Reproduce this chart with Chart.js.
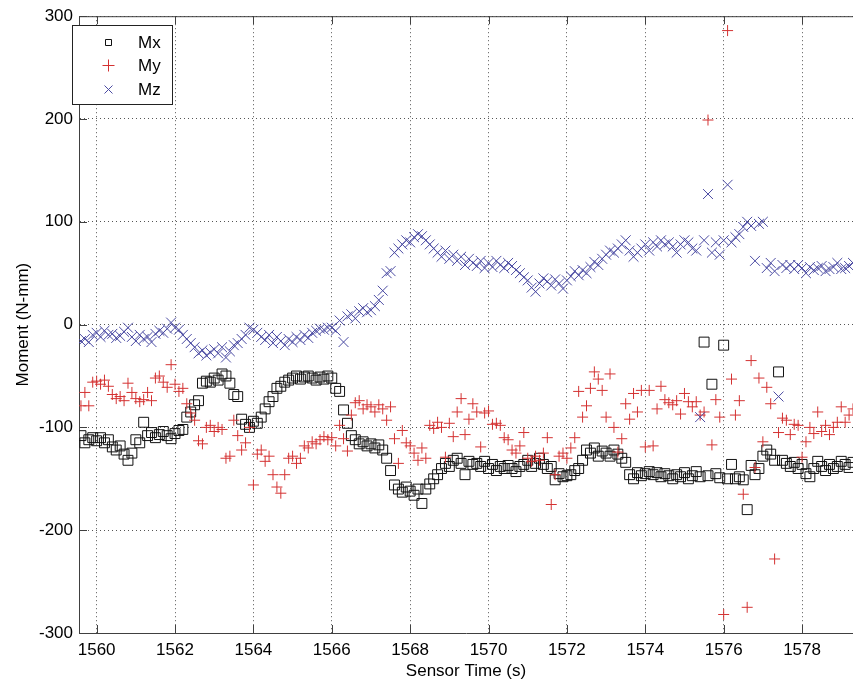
<!DOCTYPE html>
<html>
<head>
<meta charset="utf-8">
<script src="https://cdn.jsdelivr.net/npm/chart.js"></script>
<style>
  html, body { margin: 0; padding: 0; background: #fff; }
  canvas { display: block; }
</style>
</head>
<body>
<canvas id="myChart" width="853" height="683"></canvas>
<script>
// sample times (s)
const time = [
  1559.6,1559.7,1559.8,1559.9,
  1560.0,1560.1,1560.2,1560.3,1560.4,1560.5,1560.6,1560.7,1560.8,1560.9,
  1561.0,1561.1,1561.2,1561.3,1561.4,1561.5,1561.6,1561.7,1561.8,1561.9,
  1562.0,1562.1,1562.2,1562.3,1562.4,1562.5,1562.6,1562.7,1562.8,1562.9,
  1563.0,1563.1,1563.2,1563.3,1563.4,1563.5,1563.6,1563.7,1563.8,1563.9,
  1564.0,1564.1,1564.2,1564.3,1564.4,1564.5,1564.6,1564.7,1564.8,1564.9,
  1565.0,1565.1,1565.2,1565.3,1565.4,1565.5,1565.6,1565.7,1565.8,1565.9,
  1566.0,1566.1,1566.2,1566.3,1566.4,1566.5,1566.6,1566.7,1566.8,1566.9,
  1567.0,1567.1,1567.2,1567.3,1567.4,1567.5,1567.6,1567.7,1567.8,1567.9,
  1568.0,1568.1,1568.2,1568.3,1568.4,1568.5,1568.6,1568.7,1568.8,1568.9,
  1569.0,1569.1,1569.2,1569.3,1569.4,1569.5,1569.6,1569.7,1569.8,1569.9,
  1570.0,1570.1,1570.2,1570.3,1570.4,1570.5,1570.6,1570.7,1570.8,1570.9,
  1571.0,1571.1,1571.2,1571.3,1571.4,1571.5,1571.6,1571.7,1571.8,1571.9,
  1572.0,1572.1,1572.2,1572.3,1572.4,1572.5,1572.6,1572.7,1572.8,1572.9,
  1573.0,1573.1,1573.2,1573.3,1573.4,1573.5,1573.6,1573.7,1573.8,1573.9,
  1574.0,1574.1,1574.2,1574.3,1574.4,1574.5,1574.6,1574.7,1574.8,1574.9,
  1575.0,1575.1,1575.2,1575.3,1575.4,1575.5,1575.6,1575.7,1575.8,1575.9,
  1576.0,1576.1,1576.2,1576.3,1576.4,1576.5,1576.6,1576.7,1576.8,1576.9,
  1577.0,1577.1,1577.2,1577.3,1577.4,1577.5,1577.6,1577.7,1577.8,1577.9,
  1578.0,1578.1,1578.2,1578.3,1578.4,1578.5,1578.6,1578.7,1578.8,1578.9,
  1579.0,1579.1,1579.2,1579.3
];

// Mx (N-mm)
const mx = [
  -108,-115,-112,-110,
  -113,-110,-115,-112,-119,-122,-118,-126,-132,-125,
  -112,-115,-95,-108,-105,-110,-107,-104,-108,-111,
  -106,-103,-102,-90,-85,-78,-74,-57,-55,-56,
  -52,-54,-48,-50,-57,-68,-70,-92,-97,-100,
  -94,-96,-90,-82,-75,-70,-62,-60,-56,-54,
  -52,-50,-53,-51,-50,-52,-54,-51,-53,-50,
  -52,-62,-65,-83,-96,-108,-112,-116,-114,-118,
  -116,-120,-117,-122,-130,-142,-156,-160,-163,-158,
  -162,-166,-160,-174,-160,-155,-150,-146,-140,-135,
  -138,-132,-130,-135,-146,-133,-136,-135,-138,-133,
  -140,-136,-142,-138,-140,-137,-140,-143,-138,-136,
  -132,-138,-135,-130,-136,-140,-138,-151,-145,-148,
  -147,-146,-142,-140,-132,-122,-125,-120,-128,-123,
  -125,-128,-122,-126,-130,-134,-146,-150,-144,-147,
  -145,-143,-146,-144,-148,-145,-147,-150,-146,-148,
  -144,-150,-147,-143,-148,-17,-147,-58,-145,-149,
  -20,-150,-136,-150,-148,-151,-180,-137,-146,-140,
  -128,-122,-126,-132,-46,-132,-135,-138,-134,-140,
  -136,-145,-148,-140,-133,-138,-142,-136,-140,-138,
  -133,-136,-139,-134
];

// My (N-mm)
const my = [
  -79,-66,-79,-56,
  -55,-58,-54,-60,-68,-72,-70,-74,-57,-66,
  -72,-75,-73,-66,-74,-52,-50,-56,-61,-39,
  -58,-65,-62,-77,-86,-93,-113,-116,-100,-98,
  -104,-100,-102,-130,-128,-93,-108,-122,-115,-100,
  -156,-126,-122,-133,-128,-146,-158,-164,-146,-130,
  -128,-135,-130,-118,-120,-114,-116,-112,-109,-112,
  -110,-118,-98,-111,-123,-88,-76,-74,-82,-78,
  -80,-85,-78,-82,-93,-80,-111,-135,-103,-115,
  -118,-125,-132,-120,-130,-98,-101,-95,-100,-129,
  -96,-109,-85,-72,-107,-92,-77,-85,-119,-86,
  -84,-97,-96,-98,-110,-112,-122,-125,-118,-105,
  -130,-133,-128,-132,-125,-110,-175,-146,-128,-125,
  -130,-120,-110,-65,-90,-79,-62,-46,-53,-64,
  -90,-48,-100,-124,-111,-77,-92,-67,-85,-64,
  -119,-64,-118,-82,-60,-73,-76,-78,-74,-87,
  -67,-75,-80,-75,-88,-85,199,-117,-73,-90,
  -282,286,-53,-88,-74,-165,-275,-35,-139,-52,
  -114,-61,-77,-228,-105,-91,-93,-107,-97,-98,
  -129,-114,-100,-106,-85,-104,-98,-107,-100,-95,
  -80,-95,-88,-82
];

// Mz (N-mm)
const mz = [
  -16,-14,-17,-10,
  -8,-12,-6,-10,-9,-13,-11,-7,-3,-12,
  -16,-10,-14,-12,-17,-9,-6,-8,-4,2,
  -3,-5,-10,-14,-18,-22,-28,-25,-30,-27,
  -24,-28,-22,-32,-26,-20,-18,-14,-10,-3,
  -5,-8,-12,-15,-10,-18,-12,-16,-20,-14,
  -17,-12,-15,-10,-13,-8,-6,-4,-5,-3,
  -3,-6,4,-17,8,10,6,13,16,12,
  14,18,24,33,50,52,70,74,78,82,
  80,85,88,86,82,78,74,70,66,72,
  64,68,62,66,58,64,60,57,62,55,
  60,56,62,58,55,60,57,53,50,46,
  43,36,32,40,45,42,38,44,40,35,
  43,47,52,48,53,50,56,61,58,64,
  68,72,70,74,78,82,72,66,70,74,
  78,72,80,76,82,78,80,76,70,78,
  82,80,74,72,-90,82,127,70,80,68,
  82,136,80,85,88,95,100,96,62,98,
  100,55,60,52,-70,58,55,58,54,58,
  55,50,56,53,55,57,52,54,56,60,
  54,55,57,60
];

const xTicks = [1560, 1562, 1564, 1566, 1568, 1570, 1572, 1574, 1576, 1578];
const yTicks = [-300, -200, -100, 0, 100, 200, 300];
const seriesNames = ['Mx', 'My', 'Mz'];

function toPoints(vals) {
  return vals.map((v, i) => ({x: time[i], y: v}));
}

const FONT = "'Liberation Sans', Arial, sans-serif";
const colors = ['#111111', '#d43232', '#4a4aa2'];
const styles = ['rect', 'cross', 'crossRot'];

// frame, inward ticks and the boxed legend, like matlab
const frame = {
  id: 'frame',
  afterDraw(chart) {
    const ctx = chart.ctx;
    const a = chart.chartArea;
    const xs = chart.scales.x, ys = chart.scales.y;
    ctx.save();
    ctx.strokeStyle = '#404040';
    ctx.lineWidth = 1;
    ctx.beginPath();
    ctx.moveTo(a.left, a.top + 0.5);
    ctx.lineTo(a.right, a.top + 0.5);
    xs.ticks.forEach(t => {
      const px = Math.round(xs.getPixelForValue(t.value)) + 0.5;
      ctx.moveTo(px, a.bottom);
      ctx.lineTo(px, a.bottom - 8);
      ctx.moveTo(px, a.top);
      ctx.lineTo(px, a.top + 8);
    });
    ys.ticks.forEach(t => {
      const py = Math.round(ys.getPixelForValue(t.value)) + 0.5;
      ctx.moveTo(a.left, py);
      ctx.lineTo(a.left + 8, py);
    });
    ctx.stroke();

    // legend
    const bx = 72.5, by = 25.5, bw = 100, bh = 79;
    ctx.fillStyle = '#fff';
    ctx.fillRect(bx, by, bw, bh);
    ctx.strokeStyle = '#222';
    ctx.strokeRect(bx, by, bw, bh);
    const rowY = [42, 65, 89];
    ctx.font = '17px ' + FONT;
    ctx.textBaseline = 'middle';
    ctx.textAlign = 'left';
    seriesNames.forEach((name, i) => {
      const cx = 108.5, cy = rowY[i] + 0.5;
      ctx.strokeStyle = colors[i];
      ctx.beginPath();
      if (styles[i] === 'rect') {
        ctx.rect(cx - 3, cy - 3, 6, 6);
      } else if (styles[i] === 'cross') {
        ctx.moveTo(cx - 6, cy); ctx.lineTo(cx + 6, cy);
        ctx.moveTo(cx, cy - 6); ctx.lineTo(cx, cy + 6);
      } else {
        ctx.moveTo(cx - 4, cy - 4); ctx.lineTo(cx + 4, cy + 4);
        ctx.moveTo(cx - 4, cy + 4); ctx.lineTo(cx + 4, cy - 4);
      }
      ctx.stroke();
      ctx.fillStyle = '#000';
      ctx.fillText(name, 138, rowY[i] + 1);
    });
    ctx.restore();
  }
};

let ctx = document.getElementById('myChart').getContext('2d');
let chart = new Chart(ctx, {
  type: 'scatter',
  data: {
    datasets: [
      { label: 'Mx', data: toPoints(mx), pointStyle: 'rect', pointRadius: 7,
        borderColor: colors[0], backgroundColor: 'transparent', borderWidth: 1, order: 2 },
      { label: 'My', data: toPoints(my), pointStyle: 'cross', pointRadius: 5.5,
        borderColor: colors[1], backgroundColor: 'transparent', borderWidth: 1, order: 1 },
      { label: 'Mz', data: toPoints(mz), pointStyle: 'crossRot', pointRadius: 7,
        borderColor: colors[2], backgroundColor: 'transparent', borderWidth: 1, order: 0 }
    ]
  },
  options: {
    responsive: false,
    animation: false,
    events: [],
    layout: { autoPadding: false, padding: { top: 16, right: 0, left: 0, bottom: 0 } },
    plugins: { legend: { display: false }, tooltip: { enabled: false } },
    scales: {
      x: {
        type: 'linear',
        min: 1559.55,
        max: 1579.3,
        afterFit: s => { s.height = 50; s.paddingLeft = 0; s.paddingRight = 0; },
        afterBuildTicks: s => { s.ticks = xTicks.map(v => ({value: v})); },
        ticks: {
          includeBounds: false,
          padding: 7,
          color: '#000',
          font: { family: FONT, size: 17 },
          callback: v => String(v)
        },
        grid: { color: '#555', lineWidth: 1, drawTicks: false },
        border: { display: true, color: '#404040', width: 1, dash: [1, 3] },
        title: { display: true, text: 'Sensor Time (s)', color: '#000',
                 font: { family: FONT, size: 17 }, padding: { top: 0, bottom: 1 } }
      },
      y: {
        type: 'linear',
        min: -300,
        max: 300,
        afterFit: s => { s.width = 79; },
        afterBuildTicks: s => { s.ticks = yTicks.map(v => ({value: v})); },
        ticks: {
          padding: 6,
          color: '#000',
          font: { family: FONT, size: 17 },
          callback: v => String(v)
        },
        grid: { color: '#555', lineWidth: 1, drawTicks: false },
        border: { display: true, color: '#404040', width: 1, dash: [1, 3] },
        title: { display: true, text: 'Moment (N-mm)', color: '#000',
                 font: { family: FONT, size: 17 }, padding: { top: 13, bottom: 0 } }
      }
    }
  },
  plugins: [frame]
});
</script>
</body>
</html>
